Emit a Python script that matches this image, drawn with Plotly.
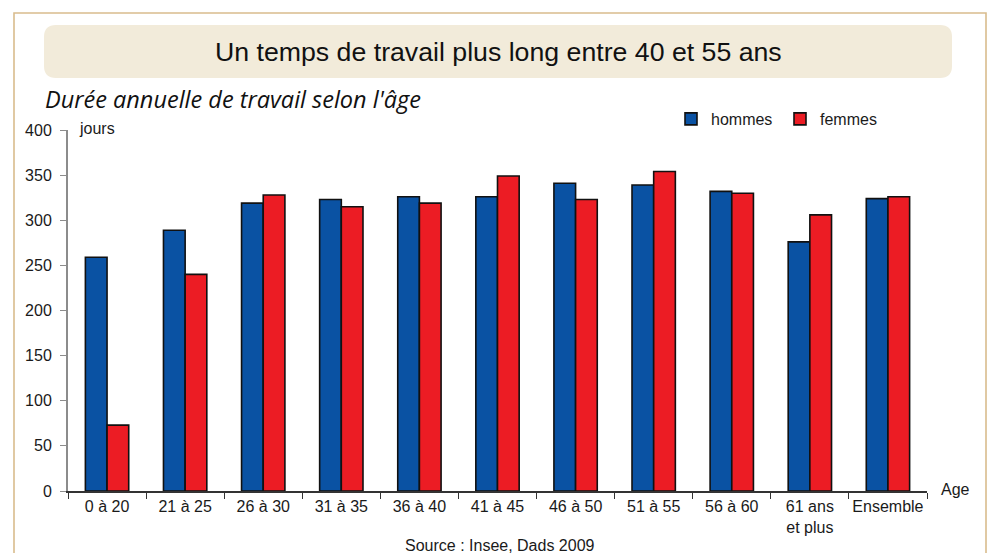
import plotly.graph_objects as go

# Durée annuelle de travail (en jours) par tranche d'âge
categories = ["0 à 20", "21 à 25", "26 à 30", "31 à 35", "36 à 40", "41 à 45",
              "46 à 50", "51 à 55", "56 à 60", "61 ans<br>et plus", "Ensemble"]
hommes = [259, 289, 319, 323, 326, 326, 341, 339, 332, 276, 324]
femmes = [73, 240, 328, 315, 319, 349, 323, 354, 330, 306, 326]
y_ticks = [0, 50, 100, 150, 200, 250, 300, 350, 400]

W, H = 990, 553
L, R, T, B = 68, 63, 130, 62
PW, PH = W - L - R, H - T - B


def px(x):
    return (x - L) / PW


def py(y):
    return (H - B - y) / PH


FONT = "Arial, 'Liberation Sans', sans-serif"
BLUE = "#0A52A3"
RED = "#EC1C24"
TAN = "#D9BC8D"
FS = 16

fig = go.Figure()
fig.add_trace(go.Bar(name="hommes", x=categories, y=hommes,
                     marker=dict(color=BLUE, line=dict(color="#111111", width=1.6))))
fig.add_trace(go.Bar(name="femmes", x=categories, y=femmes,
                     marker=dict(color=RED, line=dict(color="#111111", width=1.6))))

# outer frame (left, top, right edges)
frame = (f"M{px(14)},{py(560)} L{px(14)},{py(13)} "
         f"L{px(986)},{py(13)} L{px(986)},{py(560)}")

# rounded title banner
x0, x1, y0, y1, r = 44, 952, 25, 78, 12
banner = (f"M{px(x0 + r)},{py(y0)} L{px(x1 - r)},{py(y0)} "
          f"Q{px(x1)},{py(y0)} {px(x1)},{py(y0 + r)} "
          f"L{px(x1)},{py(y1 - r)} Q{px(x1)},{py(y1)} {px(x1 - r)},{py(y1)} "
          f"L{px(x0 + r)},{py(y1)} Q{px(x0)},{py(y1)} {px(x0)},{py(y1 - r)} "
          f"L{px(x0)},{py(y0 + r)} Q{px(x0)},{py(y0)} {px(x0 + r)},{py(y0)} Z")

fig.update_layout(
    width=W, height=H,
    margin=dict(l=L, r=R, t=T, b=B, pad=0),
    paper_bgcolor="white", plot_bgcolor="white",
    font=dict(family=FONT, size=FS, color="#1a1a1a"),
    barmode="group", bargap=0.445, bargroupgap=0,
    showlegend=True,
    legend=dict(orientation="h", x=px(671), y=py(119), xanchor="left", yanchor="middle",
                font=dict(size=FS, family=FONT), bgcolor="rgba(0,0,0,0)",
                entrywidth=64, entrywidthmode="pixels", traceorder="normal"),
    shapes=[
        dict(type="path", path=frame, xref="paper", yref="paper",
             line=dict(color=TAN, width=1.6), layer="below"),
        dict(type="path", path=banner, xref="paper", yref="paper",
             line=dict(width=0), fillcolor="#F2EBDA", layer="below"),
    ],
    annotations=[
        dict(text="Un temps de travail plus long entre 40 et 55 ans", x=px(498), y=py(52),
             xref="paper", yref="paper", showarrow=False, xanchor="center", yanchor="middle",
             font=dict(size=26.7, family=FONT, color="#111111")),
        dict(text="<i>Durée annuelle de travail selon l'âge</i>", x=px(43), y=py(99),
             xref="paper", yref="paper", showarrow=False, xanchor="left", yanchor="middle",
             font=dict(size=23.5, family="'Open Sans', Lato, sans-serif", color="#111111")),
        dict(text="jours", x=px(77), y=py(128), xref="paper", yref="paper", showarrow=False,
             xanchor="left", yanchor="middle", font=dict(size=FS, family=FONT)),
        dict(text="Age", x=px(939), y=py(489), xref="paper", yref="paper", showarrow=False,
             xanchor="left", yanchor="middle", font=dict(size=FS, family=FONT)),
        dict(text="Source : Insee, Dads 2009", x=px(500), y=py(545), xref="paper", yref="paper",
             showarrow=False, xanchor="center", yanchor="middle", font=dict(size=FS, family=FONT)),
    ],
)

fig.update_xaxes(type="category", showline=True, linecolor="#333333", linewidth=1.6,
                 ticks="outside", tickson="boundaries", ticklen=6, tickcolor="#333333",
                 tickwidth=1.4, showgrid=False, zeroline=False, tickangle=0,
                 automargin=False, tickfont=dict(size=FS, family=FONT))
fig.update_yaxes(range=[0, 400], tickvals=y_ticks, showline=True, linecolor="#8C8C8C",
                 linewidth=2, ticks="outside", ticklen=6, tickcolor="#8C8C8C", tickwidth=1.4,
                 showgrid=False, zeroline=False, ticklabelstandoff=5, automargin=False,
                 tickfont=dict(size=FS, family=FONT))

fig.write_html("out.html")
